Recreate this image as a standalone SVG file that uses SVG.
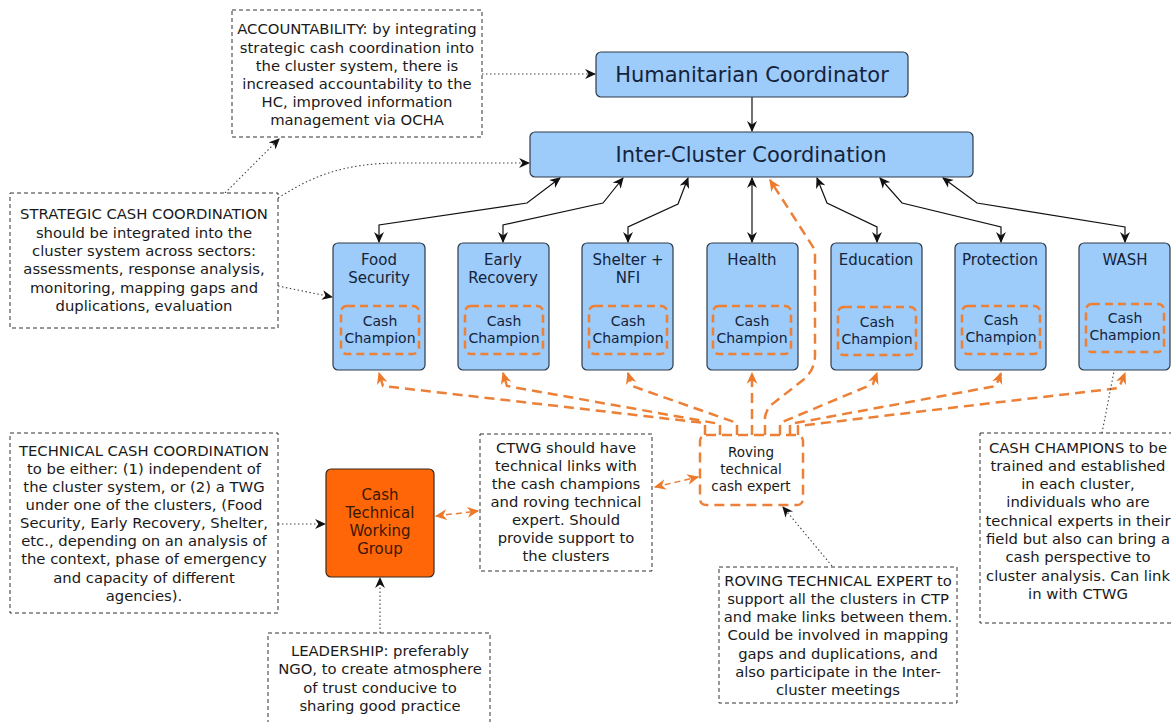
<svg xmlns="http://www.w3.org/2000/svg" width="1171" height="722" viewBox="0 0 1171 722">
<style>
  text { font-family: "DejaVu Sans", "Liberation Sans", sans-serif; text-anchor: middle; dominant-baseline: central; }
  .box { fill: #9dcbfa; stroke: #2f3a48; stroke-width: 1.2; }
  .t { font-size: 15px; fill: #14233a; }
  .big { font-size: 21px; fill: #14233a; }
  .champ { fill: none; stroke: #ec8037; stroke-width: 2.5; stroke-dasharray: 8 5; }
  .ct { font-size: 14px; fill: #14233a; }
  .note { fill: #ffffff; stroke: #333; stroke-width: 1; stroke-dasharray: 4 3; }
  .nt { font-size: 14.8px; fill: #1a1a1a; }
  .rt { font-size: 13.5px; fill: #1a1a1a; }
  .solid { fill: none; stroke: #111; stroke-width: 1.2; marker-start: url(#ab); marker-end: url(#ab); }
  .dot { fill: none; stroke: #444; stroke-width: 1.1; stroke-dasharray: 1.5 2.5; marker-end: url(#ab); }
  .or { fill: none; stroke: #ec8037; stroke-width: 2.5; stroke-dasharray: 10 6; marker-end: url(#ao); }
  .or2 { fill: none; stroke: #ec8037; stroke-width: 1.5; stroke-dasharray: 6 4; marker-start: url(#ao); marker-end: url(#ao); }
</style>
<defs>
  <marker id="ab" viewBox="0 0 10 10" refX="9" refY="5" markerWidth="11" markerHeight="11" markerUnits="userSpaceOnUse" orient="auto-start-reverse">
    <path d="M0,0.5 L10,5 L0,9.5 L3,5 z" fill="#111"/>
  </marker>
  <marker id="ao" viewBox="0 0 10 10" refX="9" refY="5" markerWidth="12" markerHeight="12" markerUnits="userSpaceOnUse" orient="auto-start-reverse">
    <path d="M0,0.5 L10,5 L0,9.5 L3,5 z" fill="#ec7a2a"/>
  </marker>
</defs>
<rect width="1171" height="722" fill="#ffffff"/>

<g id="connectors">
  <path d="M752,97 L752,131" fill="none" stroke="#111" stroke-width="1.2" marker-end="url(#ab)"/>
  <path class="solid" d="M560,178 L527,203 L379,225 L379,242"/>
  <path class="solid" d="M623,178 L603,203 L503,225 L503,242"/>
  <path class="solid" d="M688,178 L678,204 L628,227 L628,242"/>
  <path class="solid" d="M752,178 L752,242"/>
  <path class="solid" d="M817,178 L827,203 L877,227 L877,242"/>
  <path class="solid" d="M880,178 L902,203 L1001,227 L1001,242"/>
  <path class="solid" d="M943,178 L977,203 L1125,227 L1125,242"/>
  <path class="or" d="M705,435 L705,423 L383,386 L379,373"/>
  <path class="or" d="M720,435 L720,424 L507,386 L503,373"/>
  <path class="or" d="M737,435 L737,423 L632,386 L628,373"/>
  <path class="or" d="M752,435 L752,373"/>
  <path class="or" d="M765,435 L765,417 Q767,407 775,402 L803,380 Q815,370 815,355 L815,250 L770,180"/>
  <path class="or" d="M780,435 L780,423 L873,384 L877,373"/>
  <path class="or" d="M790,435 L790,424 L996,386 L1001,373"/>
  <path class="or" d="M798,435 L798,426 L1119,388 L1125,373"/>
  <path class="or2" d="M436,516 L478,511"/>
  <path class="or2" d="M655,487 L698,477"/>
  <path class="dot" d="M482,74 L595,74"/>
  <path class="dot" d="M225,193 L279,139"/>
  <path class="dot" d="M278,198 C310,178 340,163 400,163 L529,163"/>
  <path class="dot" d="M278,286 L332,297"/>
  <path class="dot" d="M278,524 L325,524"/>
  <path class="dot" d="M380,633 L380,578"/>
  <path class="dot" d="M832,566 L783,507"/>
  <path class="dot" d="M1102,433 L1117,356"/>
</g>

<g id="hc">
  <rect class="box" x="596" y="52" width="312" height="45" rx="5"/>
  <text class="big" x="752" y="75">Humanitarian Coordinator</text>
</g>
<g id="icc">
  <rect class="box" x="530" y="132" width="443" height="45" rx="5"/>
  <text class="big" x="751" y="155">Inter-Cluster Coordination</text>
</g>

<g id="food">
  <rect class="box" x="333" y="243" width="92" height="127" rx="5"/>
  <text class="t" x="379" y="260">Food</text><text class="t" x="379" y="278">Security</text>
  <rect class="champ" x="341" y="306" width="78" height="48" rx="6"/>
  <text class="ct" x="380" y="321">Cash</text><text class="ct" x="380" y="338">Champion</text>
</g>
<g id="early">
  <rect class="box" x="458" y="243" width="91" height="127" rx="5"/>
  <text class="t" x="503" y="260">Early</text><text class="t" x="503" y="278">Recovery</text>
  <rect class="champ" x="465" y="306" width="78" height="48" rx="6"/>
  <text class="ct" x="504" y="321">Cash</text><text class="ct" x="504" y="338">Champion</text>
</g>
<g id="shelter">
  <rect class="box" x="582" y="243" width="91" height="127" rx="5"/>
  <text class="t" x="628" y="260">Shelter +</text><text class="t" x="628" y="278">NFI</text>
  <rect class="champ" x="589" y="306" width="78" height="48" rx="6"/>
  <text class="ct" x="628" y="321">Cash</text><text class="ct" x="628" y="338">Champion</text>
</g>
<g id="health">
  <rect class="box" x="707" y="243" width="91" height="127" rx="5"/>
  <text class="t" x="752" y="260">Health</text>
  <rect class="champ" x="713" y="306" width="78" height="48" rx="6"/>
  <text class="ct" x="752" y="321">Cash</text><text class="ct" x="752" y="338">Champion</text>
</g>
<g id="education">
  <rect class="box" x="831" y="243" width="91" height="127" rx="5"/>
  <text class="t" x="876" y="260">Education</text>
  <rect class="champ" x="838" y="307" width="78" height="48" rx="6"/>
  <text class="ct" x="877" y="322">Cash</text><text class="ct" x="877" y="339">Champion</text>
</g>
<g id="protection">
  <rect class="box" x="955" y="243" width="91" height="127" rx="5"/>
  <text class="t" x="1000" y="260">Protection</text>
  <rect class="champ" x="962" y="306" width="78" height="48" rx="6"/>
  <text class="ct" x="1001" y="320">Cash</text><text class="ct" x="1001" y="337">Champion</text>
</g>
<g id="wash">
  <rect class="box" x="1079" y="243" width="91" height="127" rx="5"/>
  <text class="t" x="1125" y="260">WASH</text>
  <rect class="champ" x="1086" y="304" width="78" height="48" rx="6"/>
  <text class="ct" x="1125" y="318">Cash</text><text class="ct" x="1125" y="335">Champion</text>
</g>

<g id="ctwg">
  <rect x="326" y="469" width="108" height="108" rx="5" fill="#ff6608" stroke="#3a2a1a" stroke-width="1.2"/>
  <text class="t" x="380" y="495" style="fill:#3a1800">Cash</text>
  <text class="t" x="380" y="513" style="fill:#3a1800">Technical</text>
  <text class="t" x="380" y="531" style="fill:#3a1800">Working</text>
  <text class="t" x="380" y="549" style="fill:#3a1800">Group</text>
</g>

<g id="roving">
  <rect x="700" y="435" width="103" height="70" rx="6" fill="#ffffff" stroke="#ec8037" stroke-width="2.5" stroke-dasharray="10 6"/>
  <text class="rt" x="751" y="452">Roving</text>
  <text class="rt" x="751" y="469">technical</text>
  <text class="rt" x="751" y="486">cash expert</text>
</g>

<g id="note-accountability">
  <rect class="note" x="232" y="10" width="250" height="127"/>
  <text class="nt" x="357" y="28">ACCOUNTABILITY: by integrating</text>
  <text class="nt" x="357" y="47">strategic cash coordination into</text>
  <text class="nt" x="357" y="65">the cluster system, there is</text>
  <text class="nt" x="357" y="83">increased accountability to the</text>
  <text class="nt" x="357" y="101">HC, improved information</text>
  <text class="nt" x="357" y="119">management via OCHA</text>
</g>

<g id="note-strategic">
  <rect class="note" x="10" y="193" width="268" height="135"/>
  <text class="nt" x="144" y="213">STRATEGIC CASH COORDINATION</text>
  <text class="nt" x="144" y="232">should be integrated into the</text>
  <text class="nt" x="144" y="250">cluster system across sectors:</text>
  <text class="nt" x="144" y="268">assessments, response analysis,</text>
  <text class="nt" x="144" y="287">monitoring, mapping gaps and</text>
  <text class="nt" x="144" y="305">duplications, evaluation</text>
</g>

<g id="note-technical">
  <rect class="note" x="10" y="433" width="268" height="180"/>
  <text class="nt" x="144" y="450">TECHNICAL CASH COORDINATION</text>
  <text class="nt" x="144" y="468">to be either: (1) independent of</text>
  <text class="nt" x="144" y="486">the cluster system, or (2) a TWG</text>
  <text class="nt" x="144" y="504">under one of the clusters, (Food</text>
  <text class="nt" x="144" y="522">Security, Early Recovery, Shelter,</text>
  <text class="nt" x="144" y="540">etc., depending on an analysis of</text>
  <text class="nt" x="144" y="558">the context, phase of emergency</text>
  <text class="nt" x="144" y="577">and capacity of different</text>
  <text class="nt" x="144" y="595">agencies).</text>
</g>

<g id="note-ctwg">
  <rect class="note" x="480" y="434" width="172" height="137"/>
  <text class="nt" x="566" y="447">CTWG should have</text>
  <text class="nt" x="566" y="465">technical links with</text>
  <text class="nt" x="566" y="483">the cash champions</text>
  <text class="nt" x="566" y="501">and roving technical</text>
  <text class="nt" x="566" y="519">expert. Should</text>
  <text class="nt" x="566" y="537">provide support to</text>
  <text class="nt" x="566" y="555">the clusters</text>
</g>

<g id="note-leadership">
  <rect class="note" x="268" y="633" width="222" height="100"/>
  <text class="nt" x="380" y="650">LEADERSHIP: preferably</text>
  <text class="nt" x="380" y="668">NGO, to create atmosphere</text>
  <text class="nt" x="380" y="687">of trust conducive to</text>
  <text class="nt" x="380" y="705">sharing good practice</text>
</g>

<g id="note-roving">
  <rect class="note" x="719" y="567" width="238" height="136"/>
  <text class="nt" x="838" y="580">ROVING TECHNICAL EXPERT to</text>
  <text class="nt" x="838" y="598">support all the clusters in CTP</text>
  <text class="nt" x="838" y="616">and make links between them.</text>
  <text class="nt" x="838" y="634">Could be involved in mapping</text>
  <text class="nt" x="838" y="653">gaps and duplications, and</text>
  <text class="nt" x="838" y="671">also participate in the Inter-</text>
  <text class="nt" x="838" y="689">cluster meetings</text>
</g>

<g id="note-champions">
  <rect class="note" x="980" y="433" width="200" height="190"/>
  <text class="nt" x="1078" y="447">CASH CHAMPIONS to be</text>
  <text class="nt" x="1078" y="465">trained and established</text>
  <text class="nt" x="1078" y="483">in each cluster,</text>
  <text class="nt" x="1078" y="501">individuals who are</text>
  <text class="nt" x="1078" y="520">technical experts in their</text>
  <text class="nt" x="1078" y="538">field but also can bring a</text>
  <text class="nt" x="1078" y="556">cash perspective to</text>
  <text class="nt" x="1078" y="575">cluster analysis. Can link</text>
  <text class="nt" x="1078" y="593">in with CTWG</text>
</g>
</svg>
